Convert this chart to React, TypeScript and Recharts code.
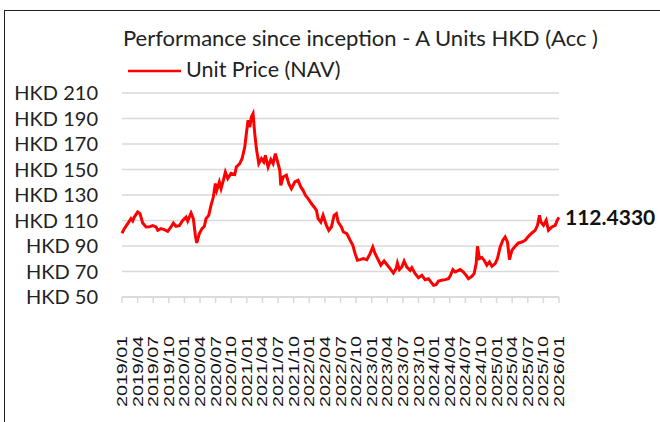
// Performance since inception – A Units HKD (Acc), line chart of unit price (NAV)
import { LineChart, Line, XAxis, YAxis, CartesianGrid, Legend, ReferenceDot } from 'recharts'

const chartTitle = 'Performance since inception - A Units HKD (Acc )'
const seriesName = 'Unit Price (NAV)'
const latestNavLabel = '112.4330'

// quarterly axis labels, one every 3 months from inception
const tickLabels = [
  '2019/01', '2019/04', '2019/07', '2019/10',
  '2020/01', '2020/04', '2020/07', '2020/10',
  '2021/01', '2021/04', '2021/07', '2021/10',
  '2022/01', '2022/04', '2022/07', '2022/10',
  '2023/01', '2023/04', '2023/07', '2023/10',
  '2024/01', '2024/04', '2024/07', '2024/10',
  '2025/01', '2025/04', '2025/07', '2025/10',
  '2026/01',
]
const yTicks = [50, 70, 90, 110, 130, 150, 170, 190, 210]

// months since 2019/01
const monthOffsets = [
  0, 0.44, 1.1, 1.73, 2.06, 2.37, 3.02, 3.46, 3.98, 4.62,
  5.25, 5.9, 6.54, 6.87, 7.5, 8.13, 8.79, 9.42, 9.87, 10.38,
  11.02, 11.67, 12.31, 12.63, 13.27, 13.71, 14.1, 14.37, 14.87, 15.38,
  15.83, 16.15, 16.67, 17.12, 17.56, 17.94, 18.21, 18.71, 19.04, 19.48,
  19.87, 20.33, 20.96, 21.67, 21.98, 22.63, 23.08, 23.6, 23.9, 24.23,
  24.56, 24.87, 25.19, 25.52, 25.83, 26.29, 26.79, 27.25, 27.56, 28.08,
  28.6, 29.04, 29.48, 30, 30.33, 30.52, 30.96, 31.6, 32.06, 32.56,
  33.21, 33.85, 34.37, 34.81, 35.25, 35.77, 36.4, 36.92, 37.37, 37.69,
  38.21, 38.65, 39.29, 39.75, 40.25, 40.77, 41.21, 41.54, 42.17, 42.56,
  43.21, 43.85, 44.37, 44.81, 45.25, 45.77, 46.4, 47.06, 47.69, 48.21,
  48.65, 49.29, 49.75, 50.38, 51.02, 51.54, 52.17, 52.69, 52.94, 53.33,
  53.79, 54.23, 54.75, 55.38, 55.71, 56.35, 56.98, 57.63, 58.27, 58.9,
  59.37, 59.87, 60.38, 60.83, 61.48, 62.12, 62.75, 63.08, 63.6, 64.04,
  64.67, 65, 65.63, 66.15, 66.6, 67.25, 67.69, 68.08, 68.33, 68.71,
  69.17, 69.62, 70.13, 70.63, 71.1, 71.73, 72.17, 72.69, 73.21, 73.65,
  74.1, 74.48, 74.94, 75.58, 76.21, 76.87, 77.5, 78.13, 78.79, 79.42,
  79.87, 80.25, 80.52, 81.02, 81.54, 81.98, 82.63, 83.27, 83.71, 84,
]

// unit price in HKD
const navValues = [
  100, 103.6, 107.6, 111.5, 109.6, 112.7, 116.7, 115.4, 108, 104.9,
  105, 106, 105, 102.3, 103.6, 102.9, 101.5, 104.9, 108, 105.5,
  106, 110, 112.7, 109.6, 115.9, 111.5, 98.4, 92.4, 99.7, 103.6,
  105.5, 111.5, 114, 122, 128.4, 139, 133.7, 140.2, 135, 141.5,
  148, 142.9, 147, 146, 152, 154.6, 158.5, 167.6, 178, 188.6,
  183.3, 191.2, 193.8, 178, 166.4, 154.6, 158.5, 155.9, 161.1, 152,
  157.8, 154.6, 162.5, 154.6, 149.4, 137.6, 144.1, 145.5, 138.9, 135,
  140.2, 141.5, 136.3, 133.7, 129.8, 127.2, 123.3, 120.6, 118, 111.5,
  108.8, 114.1, 106.2, 102.3, 104.9, 114.1, 115.4, 108.8, 104.9, 101,
  99.7, 94.5, 90.5, 84, 78.8, 79.3, 80.1, 79.3, 84, 89.2,
  84, 78.8, 74.9, 78.2, 74.9, 72.3, 68.8, 72.3, 76.7, 71.5,
  73.5, 78.2, 73.5, 70.9, 73, 68.3, 65.2, 67, 63.6, 64.4,
  61.8, 59.2, 59.7, 62.5, 63.1, 63.6, 64.4, 66.5, 71.5, 69.6,
  70.9, 71.5, 69.6, 67, 64.4, 66.2, 68.3, 76.2, 89.8, 80.1,
  80.9, 78.8, 74.9, 77.5, 74.1, 76.2, 80.1, 89.2, 94.5, 97.1,
  93.1, 79.3, 86.6, 89.8, 92.4, 93.1, 94.5, 97.6, 100.2, 102.3,
  106.2, 114.1, 108.8, 106.2, 110.2, 102.3, 104.9, 106.2, 110.7, 112.433,
]

const chartData = monthOffsets.map((m, i) => ({ m, nav: navValues[i] }))
const xTicks = tickLabels.map((_, i) => i * 3)

const FONT = 'Lato, "Open Sans", sans-serif'
const GRID = '#d9d9d9'

function DateTick({ x, y, payload }: { x?: number; y?: number; payload?: { value: number } }) {
  const label = tickLabels[Math.round((payload?.value ?? 0) / 3)]
  return (
    <text
      x={x}
      y={y}
      transform={`rotate(-90 ${x} ${y})`}
      textAnchor="end"
      dominantBaseline="central"
      fontFamily='"Liberation Sans", Arial, sans-serif'
      fontSize={14}
      fill="#111"
      textLength={71}
      lengthAdjust="spacingAndGlyphs"
    >
      {label}
    </text>
  )
}

function LegendRow({ payload }: { payload?: Array<{ value: string; color?: string }> }) {
  const item = payload?.[0]
  return (
    <svg width={300} height={34} style={{ overflow: 'visible' }}>
      <line x1={2} x2={55} y1={13} y2={13} stroke={item?.color ?? '#ff0000'} strokeWidth={2.5} />
      <text x={60} y={19} fontFamily={FONT} fontSize={21.5} fill="#222">
        {item?.value ?? seriesName}
      </text>
    </svg>
  )
}

export default function App() {
  const lastIdx = navValues.length - 1

  return (
    <div style={{ position: 'absolute', left: 0, top: 0, width: 660, height: 422, background: '#fff', overflow: 'hidden' }}>
      <div
        style={{
          position: 'absolute',
          left: 4,
          top: 10,
          width: 680,
          height: 440,
          borderLeft: '1px solid #222',
          borderTop: '1px solid #222',
        }}
      />
      <svg width={660} height={60} style={{ position: 'absolute', left: 0, top: 0 }}>
        <text x={360.5} y={46} textAnchor="middle" fontFamily={FONT} fontSize={22} fill="#222">
          {chartTitle}
        </text>
      </svg>
      <div style={{ position: 'absolute', left: 0, top: 0 }}>
        <LineChart width={660} height={422} data={chartData} margin={{ top: 93, right: 101, bottom: 35, left: 0 }}>
          <CartesianGrid vertical={false} stroke={GRID} strokeWidth={1.5} />
          <XAxis
            dataKey="m"
            type="number"
            domain={[0, 84]}
            ticks={xTicks}
            interval={0}
            height={90}
            stroke={GRID}
            strokeWidth={1.5}
            tickSize={6}
            tickMargin={33}
            tick={<DateTick />}
          />
          <YAxis
            type="number"
            domain={[50, 210]}
            ticks={yTicks}
            interval={0}
            width={122}
            axisLine={false}
            tickLine={false}
            tickSize={0}
            tickMargin={24}
            tickFormatter={(v: number) => `HKD ${v}`}
            tick={{ fontFamily: FONT, fontSize: 20, fill: '#222' }}
          />
          <Legend
            layout="vertical"
            align="center"
            verticalAlign="middle"
            wrapperStyle={{ top: 58, left: 126, width: 300, height: 34 }}
            content={<LegendRow />}
          />
          <Line
            type="linear"
            dataKey="nav"
            name={seriesName}
            stroke="#ff0000"
            strokeWidth={3}
            dot={false}
            activeDot={false}
            isAnimationActive={false}
          />
          <ReferenceDot
            x={monthOffsets[lastIdx]}
            y={navValues[lastIdx]}
            r={3}
            fill="none"
            stroke="none"
            label={{
              value: latestNavLabel,
              position: 'right',
              offset: 3,
              fontFamily: FONT,
              fontSize: 21,
              fontWeight: 700,
              fill: '#111',
            }}
          />
        </LineChart>
      </div>
    </div>
  )
}
